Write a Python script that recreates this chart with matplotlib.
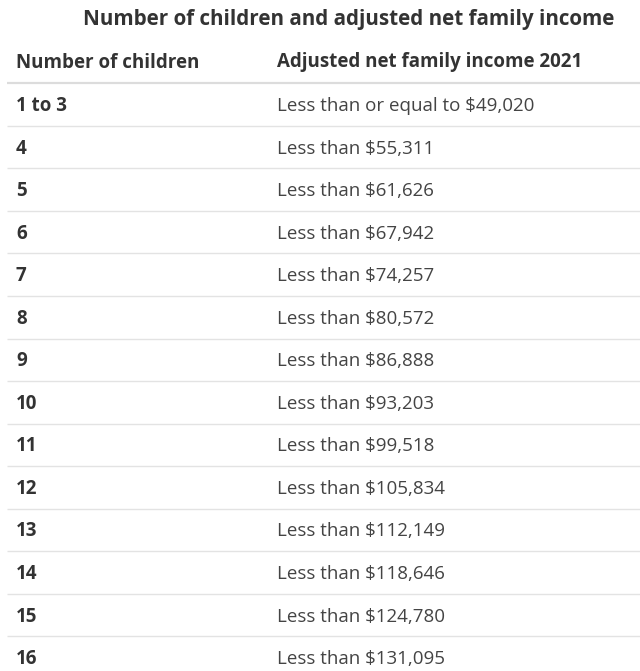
import matplotlib
matplotlib.use("Agg")
import matplotlib.pyplot as plt

title = "Number of children and adjusted net family income"
headers = ["Number of children", "Adjusted net family income 2021"]
children = ["1 to 3", "4", "5", "6", "7", "8", "9", "10", "11", "12", "13", "14", "15", "16"]
income_limits = [49020, 55311, 61626, 67942, 74257, 80572, 86888, 93203,
                 99518, 105834, 112149, 118646, 124780, 131095]
prefixes = ["Less than or equal to"] + ["Less than"] * 13

W, H = 640, 671
fig = plt.figure(figsize=(W / 100, H / 100), dpi=100)
ax = fig.add_axes([0, 0, 1, 1])
ax.set_xlim(0, W)
ax.set_ylim(H, 0)
ax.axis("off")

font = ["Open Sans", "DejaVu Sans"]
tcol = "#333333"

ax.text(349, 19.5, title, ha="center", va="center", fontsize=14.9,
        fontweight="bold", color=tcol, family=font)
ax.text(16, 62.5, headers[0], ha="left", va="center", fontsize=13.5,
        fontweight="bold", color=tcol, family=font)
ax.text(277, 62.5, headers[1], ha="left", va="center", fontsize=13.5,
        fontweight="bold", color=tcol, family=font)
ax.plot([7, W], [83, 83], color="#dcdcdc", lw=1.6, solid_capstyle="butt")

row_h = 42.55
y0 = 106
for i, (c, v, p) in enumerate(zip(children, income_limits, prefixes)):
    y = y0 + i * row_h
    ax.text(16, y, c, ha="left", va="center", fontsize=13.5,
            fontweight="bold", color=tcol, family=font)
    ax.text(277, y, f"{p} ${v:,}", ha="left", va="center", fontsize=13.5,
            color="#444444", family=font)
    if i < len(children) - 1:
        ly = y0 - 1.5 + i * row_h + row_h / 2
        ax.plot([7, W], [ly, ly], color="#e3e3e3", lw=1.0, solid_capstyle="butt")

fig.savefig("out.png", dpi=100, facecolor="white")
